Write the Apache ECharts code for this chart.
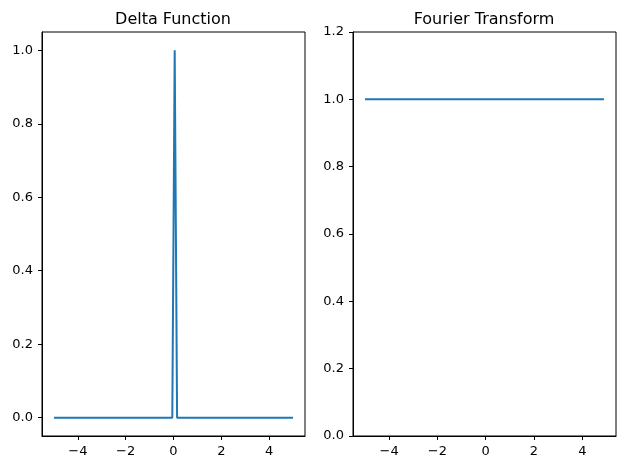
<!DOCTYPE html>
<html>
<head>
<meta charset="utf-8">
<script src="https://cdn.jsdelivr.net/npm/echarts@6/dist/echarts.min.js"></script>
<style>
  html, body { margin: 0; padding: 0; background: #fff; }
  #chart { width: 626px; height: 470px; }
</style>
</head>
<body>
<div id="chart"></div>
<script>
// data
var deltaX = [-5, -0.05, 0.05, 0.15, 5];
var deltaY = [0, 0, 1, 0, 0];
var fourierX = [-5, 4.9];
var fourierY = [1, 1];
var xTicks = [-4, -2, 0, 2, 4];
var leftYTicks = [0, 0.2, 0.4, 0.6, 0.8, 1.0];
var titles = ['Delta Function', 'Fourier Transform'];

var lineColor = '#1f77b4';
var font = 'DejaVu Sans';

function pairs(xs, ys) {
  return xs.map(function (x, i) { return [x, ys[i]]; });
}

function xAxisFor(gridIndex, min, max) {
  return {
    type: 'value',
    gridIndex: gridIndex,
    min: min,
    max: max,
    splitLine: { show: false },
    axisLine: { show: true, onZero: false, lineStyle: { color: '#000', width: 1 } },
    axisTick: { show: true, inside: false, length: 4, customValues: xTicks, lineStyle: { color: '#000' } },
    axisLabel: {
      customValues: xTicks,
      margin: 9,
      color: '#000',
      fontFamily: font,
      fontSize: 13,
      formatter: function (v) { return String(v).replace('-', '\u2212'); }
    }
  };
}

var chart = echarts.init(document.getElementById('chart'));

// title padding is 5px, so the anchors sit 5px left of the axes centres
chart.setOption({
  animation: false,
  title: [
    { text: titles[0], left: 168, top: 7, textAlign: 'center',
      textStyle: { fontFamily: font, fontSize: 16, fontWeight: 'normal', color: '#000' } },
    { text: titles[1], left: 479, top: 7, textAlign: 'center',
      textStyle: { fontFamily: font, fontSize: 16, fontWeight: 'normal', color: '#000' } }
  ],
  grid: [
    { left: 42, right: 321, top: 32, bottom: 34, show: true, borderColor: '#000', borderWidth: 1 },
    { left: 353, right: 10, top: 32, bottom: 34, show: true, borderColor: '#000', borderWidth: 1 }
  ],
  xAxis: [
    xAxisFor(0, -5.5, 5.5),
    xAxisFor(1, -5.495, 5.395)
  ],
  yAxis: [
    {
      type: 'value',
      gridIndex: 0,
      min: -0.05,
      max: 1.05,
      splitLine: { show: false },
      axisLine: { show: true, onZero: false, lineStyle: { color: '#000', width: 1 } },
      axisTick: { show: true, inside: false, length: 4, customValues: leftYTicks, lineStyle: { color: '#000' } },
      axisLabel: {
        customValues: leftYTicks,
        margin: 9,
        color: '#000',
        fontFamily: font,
        fontSize: 13,
        formatter: function (v) { return v.toFixed(1); }
      }
    },
    {
      type: 'value',
      gridIndex: 1,
      min: 0,
      max: 1.2,
      interval: 0.2,
      splitLine: { show: false },
      axisLine: { show: true, onZero: false, lineStyle: { color: '#000', width: 1 } },
      axisTick: { show: true, inside: false, length: 4, lineStyle: { color: '#000' } },
      axisLabel: {
        margin: 9,
        color: '#000',
        fontFamily: font,
        fontSize: 13,
        formatter: function (v) { return v.toFixed(1); }
      }
    }
  ],
  series: [
    {
      type: 'line',
      xAxisIndex: 0,
      yAxisIndex: 0,
      data: pairs(deltaX, deltaY),
      showSymbol: false,
      lineStyle: { color: lineColor, width: 2 },
      itemStyle: { color: lineColor }
    },
    {
      type: 'line',
      xAxisIndex: 1,
      yAxisIndex: 1,
      data: pairs(fourierX, fourierY),
      showSymbol: false,
      lineStyle: { color: lineColor, width: 2 },
      itemStyle: { color: lineColor }
    }
  ]
});
</script>
</body>
</html>
